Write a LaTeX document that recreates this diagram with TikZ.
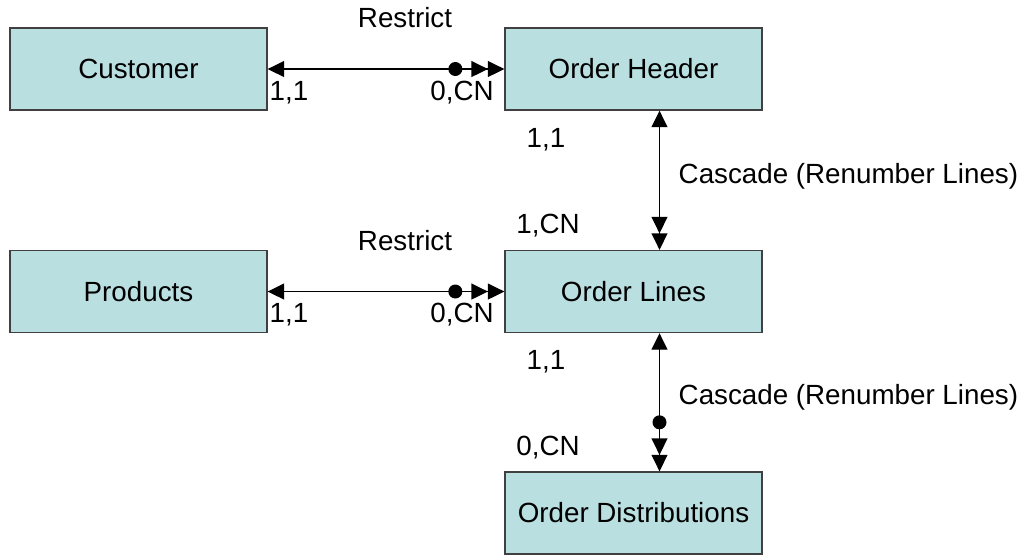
\documentclass[tikz,border=0pt]{standalone}
\usepackage{fontspec}
\setmainfont{Liberation Sans}
\usetikzlibrary{arrows.meta,decorations.markings}
\definecolor{boxblue}{RGB}{185,223,225}

\begin{document}
\begin{tikzpicture}[x=0.02cm, y=-0.02cm, line width=0.8pt,
  >={Triangle[length=0.33cm, width=0.32cm]},
  every node/.style={font=\fontsize{15.8}{18}\selectfont, inner sep=0pt},
  entity/.style={draw=black!75, fill=boxblue, minimum width=5.14cm, minimum height=1.64cm},
  dotend/.style={postaction={decorate, decoration={markings,
      mark=at position -0.98cm with {\fill circle (0.14cm);}}}}]
  \useasboundingbox (0,0) rectangle (1023,556);
  % Tables
  \node[entity] (cust) at (138.5,69) {Customer};
  \node[entity] (oh) at (633.5,69) {Order Header};
  \node[entity] (prod) at (138.5,291.5) {Products};
  \node[entity] (ol) at (633.5,291.5) {Order Lines};
  \node[entity] (od) at (633.5,513) {Order Distributions};
  % Relations
  \draw[<->>, dotend] (cust) -- (oh);
  \draw[<->>, dotend] (prod) -- (ol);
  \draw[<->>] ([xshift=0.52cm]oh.south) -- ([xshift=0.52cm]ol.north);
  \draw[<->>, dotend] ([xshift=0.52cm]ol.south) -- ([xshift=0.52cm]od.north);
  % Labels
  \node (r1) at (405,18) {Restrict};
  \node (r2) at (405,241) {Restrict};
  \node (c1) at (289,93) {1,1};
  \node (c2) at (462,93) {0,CN};
  \node (c3) at (289,315) {1,1};
  \node (c4) at (462,315) {0,CN};
  \node (c5) at (546,140) {1,1};
  \node (c6) at (548,226) {1,CN};
  \node (c7) at (546,362) {1,1};
  \node (c8) at (548,448) {0,CN};
  \node[anchor=west] (k1) at (678,176) {Cascade (Renumber Lines)};
  \node[anchor=west] (k2) at (678,397) {Cascade (Renumber Lines)};
\end{tikzpicture}
\end{document}
